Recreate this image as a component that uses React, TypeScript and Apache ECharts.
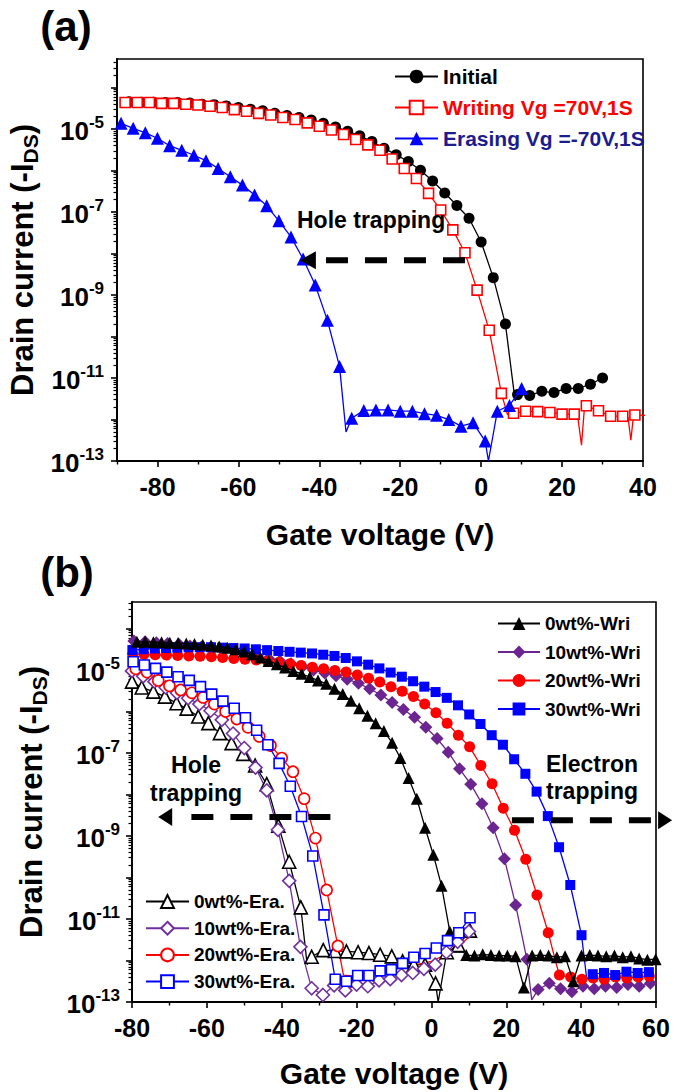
import { useEffect, useRef } from 'react';
import * as echarts from 'echarts';

const FONT = "'Liberation Sans', Arial, Helvetica, sans-serif";

// ---------- Panel (a): gate voltage (V) and log10 of drain current ----------
const initialV = [-87, -84, -81, -78, -75, -72, -69, -66, -63, -60, -57, -54, -51, -48, -45, -42, -39, -36, -33, -30, -27, -24, -21, -18, -15, -12, -9, -6, -3, 0, 3, 6, 9, 12, 15, 18, 21, 24, 27, 30];
const initialLogI = [-4.34, -4.35, -4.35, -4.36, -4.36, -4.37, -4.4, -4.41, -4.44, -4.48, -4.52, -4.56, -4.62, -4.67, -4.72, -4.78, -4.86, -4.95, -5.05, -5.16, -5.3, -5.46, -5.62, -5.78, -5.99, -6.25, -6.54, -6.84, -7.15, -7.72, -8.58, -9.7, -11.4, -11.42, -11.32, -11.35, -11.25, -11.25, -11.15, -11.0];
const initialDipV = [8.4];
const initialDipLogI = [-11.55];

const writingV = [-88, -85, -82, -79, -76, -73, -70, -67, -64, -61, -58, -55, -52, -49, -46, -43, -40, -37, -34, -31, -28, -25, -22, -19, -16, -13, -10, -7, -4, -1, 2, 5, 8, 11, 14, 17, 20, 23, 26, 29, 32, 35, 38];
const writingLogI = [-4.36, -4.36, -4.36, -4.38, -4.38, -4.4, -4.42, -4.45, -4.48, -4.53, -4.57, -4.62, -4.66, -4.72, -4.77, -4.85, -4.93, -5.02, -5.13, -5.25, -5.38, -5.51, -5.72, -5.95, -6.19, -6.55, -6.95, -7.43, -7.98, -8.88, -9.85, -11.37, -11.85, -11.8, -11.81, -11.83, -11.87, -11.87, -11.67, -11.79, -11.92, -11.92, -11.89];
const writingDipV = [6.5, 23.9, 24.8, 25.5, 36.3, 37.0, 37.6, 40.5];
const writingDipLogI = [-11.88, -11.95, -12.62, -11.75, -11.95, -12.5, -11.95, -11.9];

const erasingV = [-89, -86, -83, -80, -77, -74, -71, -68, -65, -62, -59, -56, -53, -50, -47, -44, -41, -38, -35, -32, -29, -26, -23, -20, -17, -14, -11, -8, -5, -2, 1, 4, 7, 10];
const erasingLogI = [-4.86, -4.98, -5.09, -5.22, -5.4, -5.51, -5.63, -5.76, -5.95, -6.15, -6.35, -6.59, -6.85, -7.21, -7.6, -8.13, -8.76, -9.61, -10.72, -11.97, -11.78, -11.77, -11.77, -11.8, -11.8, -11.86, -11.9, -12.0, -12.16, -12.08, -12.52, -11.8, -11.66, -11.25];
const erasingDipV = [-33.4, 1.8];
const erasingDipLogI = [-12.3, -13.0];

// ---------- Panel (b) ----------
const wri0V = [-78.7, -76.5, -74.3, -72.1, -69.9, -67.7, -65.5, -63.3, -61.1, -58.9, -56.7, -54.5, -52.3, -50.1, -47.9, -45.7, -43.5, -41.3, -39.1, -36.9, -34.7, -32.5, -30.3, -28.1, -25.9, -23.7, -21.5, -19.3, -17.1, -14.9, -12.7, -10.5, -8.3, -6.1, -3.9, -1.7, 0.5, 2.7, 4.9, 7.1, 9.3, 11.5, 13.7, 15.9, 18.1, 20.3, 22.5, 24.7, 26.9, 29.1, 31.3, 33.5, 35.7, 37.9, 40.1, 42.3, 44.5, 46.7, 48.9, 51.1, 53.3, 55.5, 57.7, 59.9];
const wri0LogI = [-4.32, -4.32, -4.33, -4.33, -4.34, -4.35, -4.36, -4.37, -4.39, -4.41, -4.43, -4.46, -4.5, -4.55, -4.62, -4.7, -4.78, -4.86, -4.94, -5.02, -5.09, -5.17, -5.25, -5.33, -5.45, -5.58, -5.74, -5.92, -6.1, -6.28, -6.47, -6.75, -7.12, -7.6, -8.1, -8.8, -9.45, -10.2, -11.3, -11.67, -11.87, -11.88, -11.85, -11.87, -11.88, -11.88, -11.9, -12.65, -11.88, -11.87, -11.88, -11.92, -11.9, -12.5, -11.88, -11.87, -11.88, -11.9, -11.88, -11.92, -11.9, -11.95, -11.98, -11.97];

const wri10V = [-79.5, -76.5, -73.5, -70.5, -67.5, -64.5, -61.5, -58.5, -55.5, -52.5, -49.5, -46.5, -43.5, -40.5, -37.5, -34.5, -31.5, -28.5, -25.5, -22.5, -19.5, -16.5, -13.5, -10.5, -7.5, -4.5, -1.5, 1.5, 4.5, 7.5, 10.5, 13.5, 16.5, 19.5, 22.5, 25.5, 28.5, 31.5, 34.5, 37.5, 40.5, 43.5, 46.5, 49.5, 52.5, 55.5, 58.5];
const wri10LogI = [-4.3, -4.32, -4.34, -4.36, -4.38, -4.42, -4.45, -4.48, -4.52, -4.56, -4.6, -4.66, -4.72, -4.78, -4.85, -4.92, -5.0, -5.07, -5.14, -5.22, -5.32, -5.45, -5.6, -5.78, -5.95, -6.14, -6.38, -6.65, -6.98, -7.38, -7.75, -8.22, -8.8, -9.55, -10.66, -11.97, -12.7, -12.55, -12.68, -12.75, -12.62, -12.68, -12.62, -12.65, -12.58, -12.62, -12.55];
const wri10DipV = [26.8];
const wri10DipLogI = [-12.95];

const wri20V = [-79.8, -76.8, -73.8, -70.8, -67.8, -64.8, -61.8, -58.8, -55.8, -52.8, -49.8, -46.8, -43.8, -40.8, -37.8, -34.8, -31.8, -28.8, -25.8, -22.8, -19.8, -16.8, -13.8, -10.8, -7.8, -4.8, -1.8, 1.2, 4.2, 7.2, 10.2, 13.2, 16.2, 19.2, 22.2, 25.2, 28.2, 31.2, 34.2, 37.2, 40.2, 43.2, 46.2, 49.2, 52.2, 55.2, 58.2];
const wri20LogI = [-4.62, -4.62, -4.63, -4.64, -4.65, -4.66, -4.67, -4.68, -4.7, -4.72, -4.74, -4.76, -4.79, -4.82, -4.85, -4.89, -4.93, -4.97, -5.01, -5.05, -5.12, -5.2, -5.29, -5.4, -5.51, -5.64, -5.82, -6.03, -6.28, -6.57, -6.85, -7.3, -7.74, -8.33, -8.86, -9.56, -10.42, -11.33, -12.35, -12.4, -12.45, -12.42, -12.45, -12.4, -12.42, -12.4, -12.38];
const wri20DipV = [33.4];
const wri20DipLogI = [-12.1];

const wri30V = [-79.9, -76.9, -73.9, -70.9, -67.9, -64.9, -61.9, -58.9, -55.9, -52.9, -49.9, -46.9, -43.9, -40.9, -37.9, -34.9, -31.9, -28.9, -25.9, -22.9, -19.9, -16.9, -13.9, -10.9, -7.9, -4.9, -1.9, 1.1, 4.1, 7.1, 10.1, 13.1, 16.1, 19.1, 22.1, 25.1, 28.1, 31.1, 34.1, 37.1, 40.1, 43.1, 46.1, 49.1, 52.1, 55.1, 58.1];
const wri30LogI = [-4.52, -4.5, -4.48, -4.47, -4.46, -4.45, -4.45, -4.45, -4.46, -4.47, -4.48, -4.5, -4.52, -4.54, -4.56, -4.58, -4.6, -4.63, -4.66, -4.71, -4.79, -4.87, -4.96, -5.06, -5.16, -5.27, -5.4, -5.53, -5.67, -5.85, -6.07, -6.3, -6.57, -6.8, -7.15, -7.5, -7.93, -8.52, -9.27, -10.18, -11.39, -12.33, -12.3, -12.35, -12.27, -12.3, -12.28];
const wri30DipV = [41.5];
const wri30DipLogI = [-12.45];

const era0V = [-80.0, -77.4, -74.3, -71.2, -68.1, -65.4, -62.3, -59.6, -56.5, -53.4, -50.3, -47.1, -44.0, -40.9, -38.0, -34.9, -32.0, -28.9, -25.8, -22.7, -19.6, -16.7, -13.7, -10.6, -7.7, -4.7, -1.7, 1.1, 4.1, 7.2, 10.3];
const era0LogI = [-5.28, -5.42, -5.52, -5.64, -5.8, -5.93, -6.12, -6.28, -6.52, -6.76, -7.02, -7.3, -7.75, -8.75, -9.62, -10.72, -11.91, -11.75, -11.77, -11.78, -11.8, -11.82, -11.86, -11.9, -12.02, -12.1, -12.1, -12.55, -11.8, -11.63, -11.28];
const era0DipV = [-33.2, 1.8];
const era0DipLogI = [-12.1, -13.0];

const era10V = [-80, -77, -74, -71, -68, -65, -62, -59, -56, -53, -50, -47, -44, -41, -38, -35, -32, -29, -26, -23, -20, -17, -14, -11, -8, -5, -2, 1, 4, 7, 10];
const era10LogI = [-5.02, -5.15, -5.28, -5.42, -5.55, -5.68, -5.82, -5.98, -6.2, -6.53, -6.88, -7.35, -7.9, -8.85, -10.08, -11.67, -12.67, -12.83, -12.6, -12.72, -12.58, -12.62, -12.48, -12.45, -12.35, -12.3, -12.2, -12.1, -11.8, -11.55, -11.3];

const era20V = [-79, -76, -73, -70, -67, -64, -61, -58, -55, -52, -49, -46, -43, -40, -37, -34, -31, -28, -25];
const era20LogI = [-4.97, -5.05, -5.25, -5.38, -5.48, -5.55, -5.66, -5.82, -6.0, -6.18, -6.38, -6.6, -6.82, -7.12, -7.45, -8.1, -9.05, -10.3, -11.65];
const era20TailV = [-23.5, -20, -16, -12, -8, -4, 0, 4, 8, 11];
const era20TailLogI = [-12.35, -12.38, -12.3, -12.25, -12.18, -12.1, -12.02, -11.85, -11.6, -11.35];

const era30V = [-79.7, -76.7, -73.7, -70.7, -67.7, -64.7, -61.7, -58.7, -55.7, -52.7, -49.7, -46.7, -43.7, -40.7, -37.7, -34.7, -31.7, -28.7, -25.7, -22.7, -19.7, -16.7, -13.7, -10.7, -7.7, -4.7, -1.7, 1.3, 4.3, 7.3, 10.3];
const era30LogI = [-4.8, -4.88, -4.96, -5.05, -5.16, -5.25, -5.4, -5.58, -5.75, -5.92, -6.15, -6.45, -6.8, -7.25, -7.8, -8.53, -9.48, -10.9, -12.45, -12.5, -12.36, -12.36, -12.25, -12.22, -12.07, -11.92, -11.83, -11.7, -11.52, -11.33, -10.97];

// ---------- axes ----------
const xTicksA = [-80, -60, -40, -20, 0, 20, 40];
const xMinorA = [-90, -70, -50, -30, -10, 10, 30];
const xTicksB = [-80, -60, -40, -20, 0, 20, 40, 60];
const xMinorB = [-70, -50, -30, -10, 10, 30, 50];
const yDecades = [-13, -12, -11, -10, -9, -8, -7, -6, -5, -4];
const yLabels = [-13, -11, -9, -7, -5];

// annotation arrows (gate voltage, log10 current)
const arrowA = { tipV: -44.8, tailV: -4.0, logI: -8.16 };
const arrowBLeft = { tipV: -73.0, tailV: -27.0, logI: -8.54 };
const arrowBRight = { tipV: 64.3, tailV: 21.5, logI: -8.62 };

function pts(xs: number[], ys: number[], ux?: number[], uy?: number[]) {
  const out: any[] = xs.map((x, i) => ({ value: [x, ys[i]] }));
  if (ux && uy) ux.forEach((x, i) => out.push({ value: [x, uy[i]], symbol: 'none' }));
  out.sort((a, b) => a.value[0] - b.value[0]);
  return out;
}

function minorLog(max: number) {
  const res: number[] = [];
  for (let n = -13; n <= -4; n++) {
    for (let k = 2; k <= 9; k++) {
      const v = n + Math.log10(k);
      if (v <= max) res.push(v);
    }
  }
  return res;
}

function xAxes(gridIndex: number, min: number, max: number, majors: number[], minors: number[]) {
  return [
    {
      type: 'value', gridIndex, min, max, position: 'bottom',
      axisLine: { show: true, onZero: false, lineStyle: { color: '#000', width: 2 } },
      axisTick: { show: true, inside: false, length: 6, customValues: majors, lineStyle: { color: '#000', width: 1.6 } },
      axisLabel: { show: true, customValues: majors, margin: 13, color: '#000', fontSize: 25, fontWeight: 'bold', fontFamily: FONT },
      splitLine: { show: false },
    },
    {
      type: 'value', gridIndex, min, max, position: 'bottom',
      axisLine: { show: false, onZero: false },
      axisTick: { show: true, inside: false, length: 3.5, customValues: minors, lineStyle: { color: '#000', width: 1.4 } },
      axisLabel: { show: false },
      splitLine: { show: false },
    },
  ];
}

function yAxes(gridIndex: number, max: number, margin: number) {
  return [
    {
      type: 'value', gridIndex, min: -13, max, position: 'left',
      axisLine: { show: true, onZero: false, lineStyle: { color: '#000', width: 2 } },
      axisTick: { show: true, inside: false, length: 6, customValues: yDecades, lineStyle: { color: '#000', width: 1.6 } },
      axisLabel: {
        show: true, customValues: yLabels, margin,
        formatter: (v: number) => `{b|10}{s|${Math.round(v)}}`,
        rich: {
          b: { fontSize: 26, fontWeight: 'bold', fontFamily: FONT, color: '#000', lineHeight: 30, verticalAlign: 'bottom' },
          s: { fontSize: 17, fontWeight: 'bold', fontFamily: FONT, color: '#000', lineHeight: 17, verticalAlign: 'top' },
        },
      },
      splitLine: { show: false },
    },
    {
      type: 'value', gridIndex, min: -13, max, position: 'left',
      axisLine: { show: false, onZero: false },
      axisTick: { show: true, inside: false, length: 3.5, customValues: minorLog(max), lineStyle: { color: '#000', width: 1.2 } },
      axisLabel: { show: false },
      splitLine: { show: false },
    },
  ];
}

function line(name: string, axis: number, data: any[], symbol: string, size: number, color: string, open: boolean, z: number) {
  return {
    type: 'line', name, xAxisIndex: axis, yAxisIndex: axis, data, symbol, symbolSize: size,
    showSymbol: true, showAllSymbol: true, clip: true, z,
    lineStyle: { color, width: 1.3 },
    itemStyle: open ? { color: '#fff', borderColor: color, borderWidth: 1.6 } : { color, borderWidth: 0 },
    emphasis: { disabled: true },
    animation: false,
  };
}

const RED = '#ff0000';
const BLUE = '#0000ff';
const PURPLE = '#6c2590';
const NAVY = '#1c1c8e';

export default function App() {
  const ref = useRef<HTMLDivElement>(null);
  useEffect(() => {
    if (!ref.current) return;
    const chart = echarts.init(ref.current, undefined, { renderer: 'svg' });
    const maxA = -3.31;
    const maxB = -3.36;
    const option: any = {
      animation: false,
      textStyle: { fontFamily: FONT },
      grid: [
        { left: 117, top: 59, width: 526, height: 402, show: true, borderColor: '#000', borderWidth: 1.6, backgroundColor: 'transparent' },
        { left: 132, top: 602, width: 524, height: 400, show: true, borderColor: '#000', borderWidth: 1.6, backgroundColor: 'transparent' },
      ],
      xAxis: [...xAxes(0, -90, 40, xTicksA, xMinorA), ...xAxes(1, -80, 60, xTicksB, xMinorB)],
      yAxis: [...yAxes(0, maxA, 13), ...yAxes(1, maxB, 12)],
      legend: [
        {
          data: [
            { name: 'Initial', textStyle: { color: '#000' } },
            { name: 'Writing Vg =70V,1S', textStyle: { color: RED } },
            { name: 'Erasing Vg =-70V,1S', textStyle: { color: NAVY } },
          ],
          orient: 'vertical', left: 394, top: 66, padding: 0, itemWidth: 43, itemHeight: 17, itemGap: 10,
          selectedMode: false, textStyle: { fontSize: 21, fontWeight: 'bold', fontFamily: FONT },
        },
        {
          data: ['0wt%-Wri', '10wt%-Wri', '20wt%-Wri', '30wt%-Wri'],
          orient: 'vertical', left: 497, top: 614, padding: 0, itemWidth: 42, itemHeight: 16, itemGap: 9.5,
          selectedMode: false, textStyle: { fontSize: 19, fontWeight: 'bold', fontFamily: FONT, color: '#000' },
        },
        {
          data: ['0wt%-Era.', '10wt%-Era.', '20wt%-Era.', '30wt%-Era.'],
          orient: 'vertical', left: 145, top: 892, padding: 0, itemWidth: 43, itemHeight: 16, itemGap: 7.7,
          selectedMode: false, textStyle: { fontSize: 19, fontWeight: 'bold', fontFamily: FONT, color: '#000' },
        },
      ],
      series: [
        line('Initial', 0, pts(initialV, initialLogI, initialDipV, initialDipLogI), 'circle', 11, '#000', false, 3),
        line('Writing Vg =70V,1S', 0, pts(writingV, writingLogI, writingDipV, writingDipLogI), 'rect', 10, RED, true, 4),
        line('Erasing Vg =-70V,1S', 0, pts(erasingV, erasingLogI, erasingDipV, erasingDipLogI), 'triangle', 13, BLUE, false, 5),

        line('10wt%-Wri', 2, pts(wri10V, wri10LogI, wri10DipV, wri10DipLogI), 'diamond', 13, PURPLE, false, 3),
        line('20wt%-Wri', 2, pts(wri20V, wri20LogI, wri20DipV, wri20DipLogI), 'circle', 11, RED, false, 3),
        line('30wt%-Wri', 2, pts(wri30V, wri30LogI, wri30DipV, wri30DipLogI), 'rect', 10, BLUE, false, 3),
        line('0wt%-Wri', 2, pts(wri0V, wri0LogI), 'triangle', 12, '#000', false, 4),
        line('0wt%-Era.', 2, pts(era0V, era0LogI, era0DipV, era0DipLogI), 'triangle', 13, '#000', true, 5),
        line('10wt%-Era.', 2, pts(era10V, era10LogI), 'diamond', 13, '#7030a0', true, 5),
        line('20wt%-Era.', 2, pts(era20V, era20LogI, era20TailV, era20TailLogI), 'circle', 11, RED, true, 5),
        line('30wt%-Era.', 2, pts(era30V, era30LogI), 'rect', 10, BLUE, true, 6),
      ],
    };
    chart.setOption(option);

    const toPx = (si: number, x: number, y: number) => chart.convertToPixel({ seriesIndex: si }, [x, y]) as number[];
    const arrow = (si: number, a: { tipV: number; tailV: number; logI: number }, head: number, halfW: number) => {
      const tip = toPx(si, a.tipV, a.logI);
      const tail = toPx(si, a.tailV, a.logI);
      const dir = Math.sign(tail[0] - tip[0]);
      const baseX = tip[0] + dir * head;
      return [
        { type: 'line', z: 50, shape: { x1: tail[0], y1: tail[1], x2: baseX + dir * 3, y2: tip[1] }, style: { stroke: '#000', lineWidth: 6, lineDash: [22, 17] } },
        { type: 'polygon', z: 51, shape: { points: [[tip[0], tip[1]], [baseX, tip[1] - halfW], [baseX, tip[1] + halfW]] }, style: { fill: '#000' } },
      ];
    };
    const txt = (x: number, y: number, text: string, size: number, extra: any = {}) => ({
      type: 'text', x, y, z: 60,
      style: { text, font: `bold ${size}px ${FONT}`, fill: '#000', align: 'center', verticalAlign: 'middle', textAlign: 'center', textVerticalAlign: 'middle', ...extra },
    });
    const yTitle = (x: number, y: number) => ({
      type: 'text', x, y, z: 60, rotation: Math.PI / 2,
      style: {
        text: '{m|Drain current (-I}{sub|DS}{m|)}',
        fill: '#000', align: 'center', verticalAlign: 'middle', textAlign: 'center', textVerticalAlign: 'middle',
        rich: {
          m: { fontSize: 31, fontWeight: 'bold', fontFamily: FONT, fill: '#000', color: '#000', lineHeight: 34, verticalAlign: 'top' },
          sub: { fontSize: 21, fontWeight: 'bold', fontFamily: FONT, fill: '#000', color: '#000', lineHeight: 20, padding: [17, 0, 0, 0], verticalAlign: 'bottom' },
        },
      },
    });

    chart.setOption({
      graphic: [
        txt(66, 26, '(a)', 42),
        txt(67, 572, '(b)', 42),
        yTitle(24, 260),
        yTitle(33, 802),
        txt(380, 534, 'Gate voltage (V)', 30),
        txt(394, 1073, 'Gate voltage (V)', 30),
        txt(297, 220, 'Hole trapping', 23, { align: 'left', textAlign: 'left' }),
        txt(196, 765, 'Hole', 23),
        txt(196, 793, 'trapping', 23),
        txt(592, 764, 'Electron', 23),
        txt(592, 791, 'trapping', 23),
        ...arrow(0, arrowA, 16, 9),
        ...arrow(3, arrowBLeft, 14, 9),
        ...arrow(3, arrowBRight, 14, 9),
      ],
    });

    return () => chart.dispose();
  }, []);
  return <div ref={ref} style={{ position: 'absolute', left: 0, top: 0, width: 675, height: 1092, background: '#fff' }} />;
}
